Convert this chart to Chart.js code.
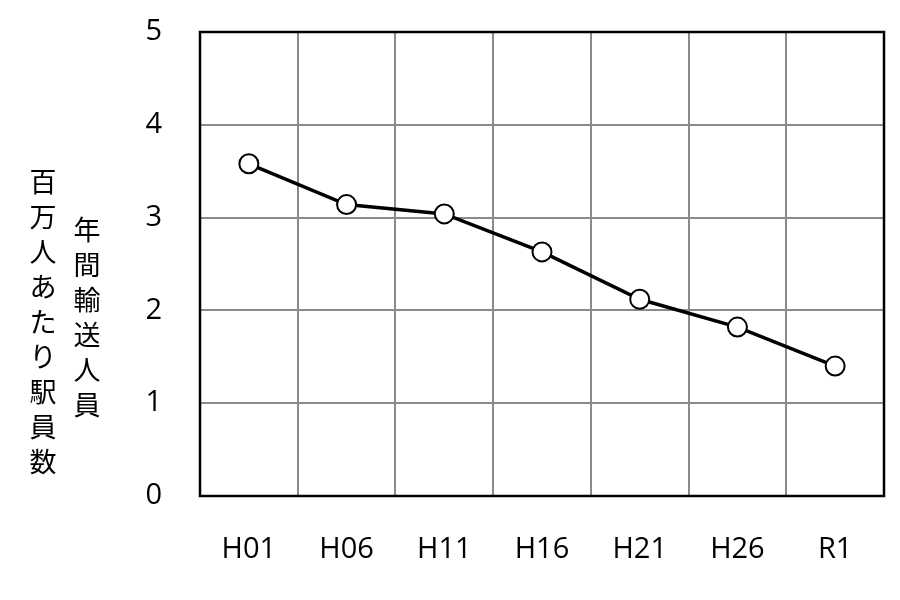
<!DOCTYPE html>
<html><head><meta charset="utf-8">
<script src="https://cdn.jsdelivr.net/npm/chart.js@4/dist/chart.umd.min.js"></script>
<style>html,body{margin:0;padding:0;background:#fff}#wrap{width:900px;height:600px}</style>
</head><body><div id="wrap"><canvas id="c" width="900" height="600"></canvas></div>
<script>
const categories = ["H01","H06","H11","H16","H21","H26","R1"];
const staffPerMillion = [3.58,3.14,3.04,2.63,2.12,1.82,1.40];
const yTicks = [0,1,2,3,4,5];
const titleLeft = "百万人あたり駅員数";
const titleRight = "年間輸送人員";

const verticalTitles = {
  id:'verticalTitles',
  afterDraw(chart){
    const ctx = chart.ctx;
    ctx.save();
    ctx.fillStyle = '#000';
    ctx.font = '27px "Noto Sans CJK JP"';
    ctx.textAlign = 'center';
    ctx.textBaseline = 'middle';
    const step = 35;
    [...titleLeft].forEach((ch,i)=>ctx.fillText(ch, 43, 182 + i*step));
    [...titleRight].forEach((ch,i)=>ctx.fillText(ch, 87, 230 + i*step));
    ctx.restore();
  }
};
const frame = {
  id:'frame',
  beforeDatasetsDraw(chart){
    const a = chart.chartArea, ctx = chart.ctx;
    ctx.save();
    ctx.strokeStyle = '#000';
    ctx.lineWidth = 2.5;
    ctx.strokeRect(a.left, a.top, a.right - a.left, a.bottom - a.top);
    ctx.restore();
  }
};

new Chart(document.getElementById('c'), {
  type:'line',
  data:{labels:categories, datasets:[{
    data:staffPerMillion,
    borderColor:'#000', borderWidth:3.5,
    pointRadius:9.5, pointBorderWidth:2, pointBackgroundColor:'#fff', pointBorderColor:'#000',
    tension:0, clip:false
  }]},
  options:{
    responsive:false, animation:false,
    layout:{padding:{top:32,right:16,left:0,bottom:0}},
    plugins:{legend:{display:false}, tooltip:{enabled:false}},
    scales:{
      x:{
        offset:true,
        grid:{offset:true, color:'#8a8a8a', lineWidth:2, drawTicks:false},
        border:{display:false},
        ticks:{padding:36, color:'#000', font:{family:'"Open Sans"', size:29}, maxRotation:0},
        afterFit(s){ s.height = 104; s.paddingLeft = 0; s.paddingRight = 0; }
      },
      y:{
        min:0, max:5,
        afterBuildTicks(s){ s.ticks = yTicks.map(v=>({value:v})); },
        grid:{color:'#8a8a8a', lineWidth:2, drawTicks:false},
        border:{display:false},
        ticks:{padding:38, color:'#000', font:{family:'"Open Sans"', size:29}},
        afterFit(s){ s.width = 200; s.paddingTop = 0; s.paddingBottom = 0; }
      }
    }
  },
  plugins:[frame, verticalTitles]
});
</script></body></html>
